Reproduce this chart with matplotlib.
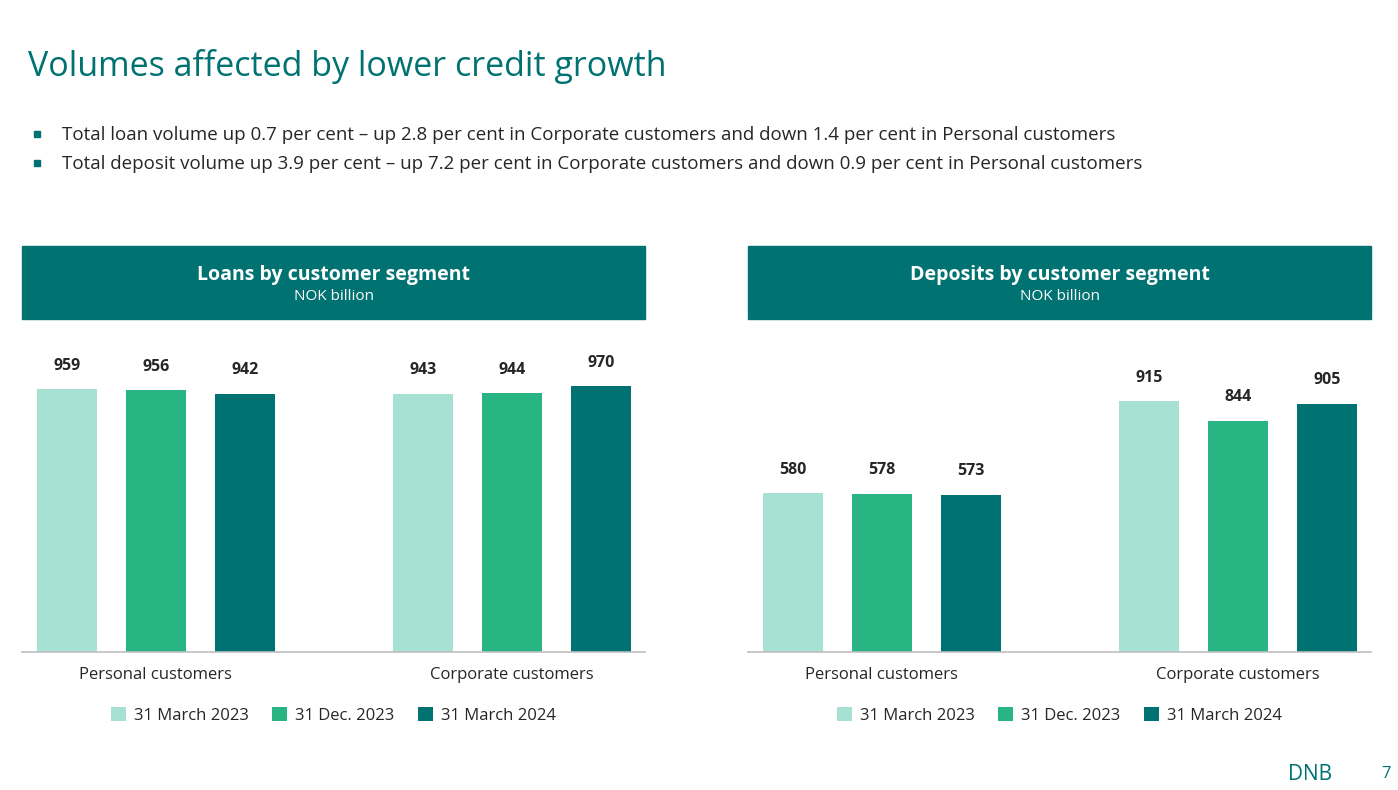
import matplotlib
matplotlib.use("Agg")
import matplotlib.pyplot as plt
import numpy as np
from matplotlib.patches import Rectangle

plt.rcParams['font.family'] = ['Open Sans', 'DejaVu Sans']

# ---------------------------------------------------------------------------
# Data
# ---------------------------------------------------------------------------
categories = ["Personal customers", "Corporate customers"]
periods = ["31 March 2023", "31 Dec. 2023", "31 March 2024"]
loans = [[959, 943], [956, 944], [942, 970]]
deposits = [[580, 915], [578, 844], [573, 905]]
panel_titles = ["Loans by customer segment", "Deposits by customer segment"]
unit_label = "NOK billion"
title = "Volumes affected by lower credit growth"
bullets = [
    "Total loan volume up 0.7 per cent \u2013 up 2.8 per cent in Corporate customers and down 1.4 per cent in Personal customers",
    "Total deposit volume up 3.9 per cent \u2013 up 7.2 per cent in Corporate customers and down 0.9 per cent in Personal customers",
]

TEAL = "#007272"
colors = ["#a6e1d3", "#29b483", TEAL]
TXT = "#262626"

W, H = 1398, 790
fig = plt.figure(figsize=(W / 100, H / 100), dpi=100)


def fx(px):
    return px / W


def fy(py):
    return 1 - py / H


# title and bullets
fig.text(fx(28), fy(66), title, color=TEAL, fontsize=24.5, va="center", ha="left")
for i, b in enumerate(bullets):
    y = 134 + 29 * i
    fig.patches.append(Rectangle((fx(34), fy(y + 3)), fx(6), 6 / H,
                                 transform=fig.transFigure, color=TEAL))
    fig.text(fx(62), fy(y + 1), b, color=TXT, fontsize=13.5, va="center", ha="left")


def panel(x0, x1, series, head):
    # header band
    fig.patches.append(Rectangle((fx(x0), fy(319)), fx(x1 - x0), (319 - 246) / H,
                                 transform=fig.transFigure, color=TEAL))
    xc = fx((x0 + x1) / 2)
    fig.text(xc, fy(275), head, color="white", fontsize=14, fontweight="bold",
             ha="center", va="center")
    fig.text(xc, fy(297), unit_label, color="white", fontsize=11,
             ha="center", va="center")

    ax = fig.add_axes([fx(x0), fy(652), fx(x1 - x0), (652 - 340) / H])
    x = np.arange(len(categories))
    w = 0.1685
    for k, (vals, c) in enumerate(zip(series, colors)):
        xs = x + (k - 1) * 0.25
        ax.bar(xs, vals, width=w, color=c, label=periods[k])
        for xi, v in zip(xs, vals):
            ax.annotate(f"{v}", (xi, v), xytext=(0, 17), textcoords="offset points",
                        ha="center", va="center", fontsize=11.5, fontweight="bold",
                        color=TXT)
    ax.set_xlim(-0.376, 1.374)
    ax.set_ylim(0, 1139)
    for s in ["top", "right", "left"]:
        ax.spines[s].set_visible(False)
    ax.spines["bottom"].set_color("#bfbfbf")
    ax.spines["bottom"].set_linewidth(1.2)
    ax.set_yticks([])
    ax.set_xticks(x)
    ax.set_xticklabels(categories, fontsize=12, color=TXT)
    ax.tick_params(axis="x", length=0, pad=11)
    ax.patch.set_alpha(0)
    leg = ax.legend(loc="upper center", bbox_to_anchor=(0.5, -0.128), ncol=3,
                    frameon=False, fontsize=12, handlelength=0.9, handleheight=0.9,
                    handletextpad=0.5, columnspacing=1.4)
    for t in leg.get_texts():
        t.set_color(TXT)
    return ax


panel(22, 645, loans, panel_titles[0])
panel(748, 1371, deposits, panel_titles[1])

# footer
fig.text(fx(1310), fy(774), "DNB", color=TEAL, fontsize=15, ha="center", va="center")
fig.text(fx(1386), fy(774), "7", color=TEAL, fontsize=12, ha="center", va="center")

fig.savefig("out.png", dpi=100)
